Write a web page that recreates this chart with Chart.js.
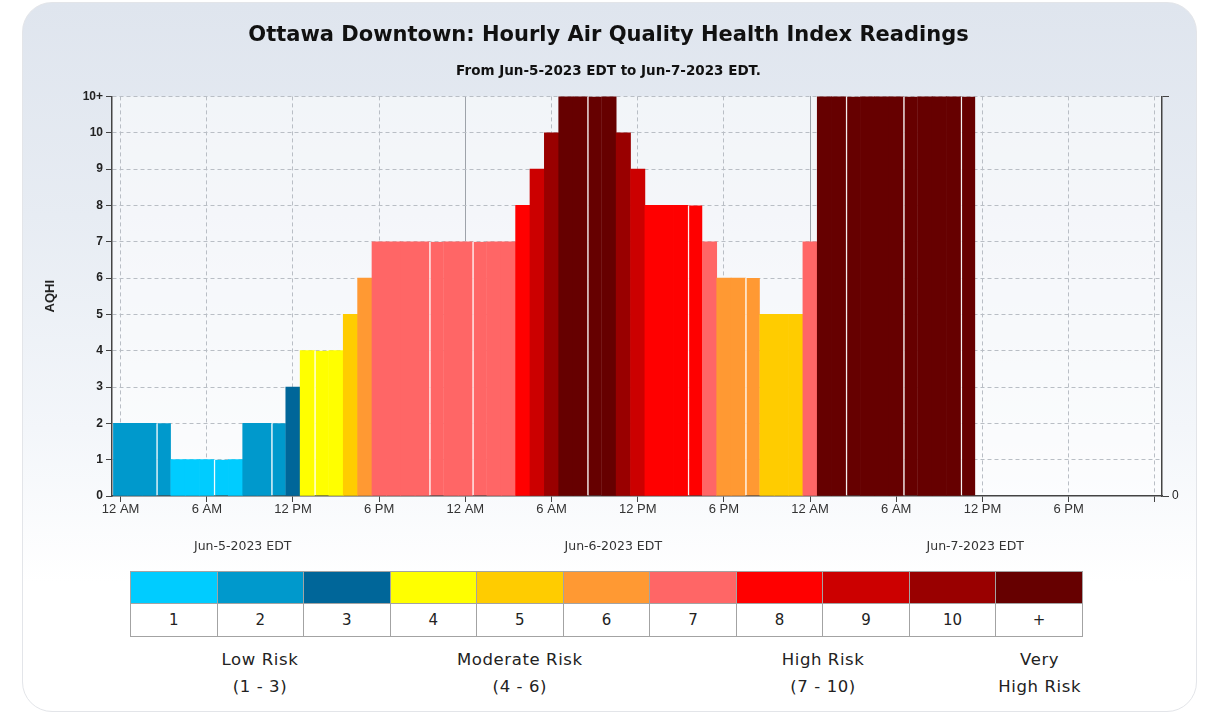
<!DOCTYPE html>
<html>
<head>
<title>Ottawa Downtown AQHI</title>
<style>
  html, body { margin: 0; padding: 0; background: #fff; }
  body { width: 1217px; height: 714px; position: relative; overflow: hidden; font-family: "DejaVu Sans", Verdana, sans-serif; color: #222; }
  #card { position: absolute; left: 22px; top: 2px; width: 1173px; height: 708px; border-radius: 30px; border: 1px solid #e3e5e9;
          background: linear-gradient(to bottom, #dfe5ee 0%, #e7ecf3 30%, #f3f6fa 60%, #ffffff 82%); }
  #wrap { position: absolute; left: 0; top: 0; width: 1217px; height: 565px; }
  #legend { position: absolute; left: 130px; top: 571px; width: 953px; border-collapse: collapse; table-layout: fixed; }
  #legend td { border: 1px solid #a3a3a3; padding: 0; text-align: center; font-size: 15px; color: #222; }
  #legend tr.sw td { height: 31px; }
  #legend tr.num td { height: 32px; background: #fff; }
  .risk { position: absolute; top: 646px; width: 220px; text-align: center; font-size: 16.5px; letter-spacing: 0.6px; line-height: 27px; color: #222; }
</style>
</head>
<body>
<div id="card"></div>
<div id="wrap"><canvas id="aqhiChart" width="1217" height="565"></canvas></div>
<table id="legend"><tr class="sw"></tr><tr class="num"></tr></table>

<script src="https://cdn.jsdelivr.net/npm/chart.js"></script>
<script>
// hourly AQHI, Jun-5-2023 12 AM onwards (11 = "10+")
const aqhi = [2, 2, 2, 2, 1, 1, 1, 1, 1, 2, 2, 2,
              3, 4, 4, 4, 5, 6, 7, 7, 7, 7, 7, 7,
              7, 7, 7, 7, 8, 9, 10, 11, 11, 11, 11, 10,
              9, 8, 8, 8, 8, 7, 6, 6, 6, 5, 5, 5,
              7, 11, 11, 11, 11, 11, 11, 11, 11, 11, 11, 11];

const levels = ['1', '2', '3', '4', '5', '6', '7', '8', '9', '10', '+'];
const levelColors = ['#00ccff', '#0099cc', '#006699', '#ffff00', '#ffcc00', '#ff9933',
                     '#ff6666', '#ff0000', '#cc0000', '#990000', '#660000'];

const tickHours = [0, 6, 12, 18, 24, 30, 36, 42, 48, 54, 60, 66, 72];
const tickNames = ['12 AM', '6 AM', '12 PM', '6 PM'];
const dayLines = [24, 48];
const dayLabels = ['Jun-5-2023 EDT', 'Jun-6-2023 EDT', 'Jun-7-2023 EDT'];
const dayLabelAt = [8.5, 34.3, 59.5];

const riskGroups = [
    { from: 0, to: 3, lines: ['Low Risk', '(1 - 3)'] },
    { from: 3, to: 6, lines: ['Moderate Risk', '(4 - 6)'] },
    { from: 6, to: 10, lines: ['High Risk', '(7 - 10)'] },
    { from: 10, to: 11, lines: ['Very', 'High Risk'] }
];

// thin light seams visible between some bars in the original
const seamBars = [3, 7, 11, 14, 22, 25, 33, 40, 44, 51, 55, 59];

// legend table
const sw = document.querySelector('#legend tr.sw');
const num = document.querySelector('#legend tr.num');
levels.forEach((l, i) => {
    const a = document.createElement('td');
    a.style.background = levelColors[i];
    sw.appendChild(a);
    const b = document.createElement('td');
    b.textContent = l;
    num.appendChild(b);
});
const cellW = 953 / levels.length;
riskGroups.forEach(g => {
    const d = document.createElement('div');
    d.className = 'risk';
    d.innerHTML = g.lines.join('<br>');
    d.style.left = (130 + (g.from + g.to) / 2 * cellW - 110) + 'px';
    document.body.appendChild(d);
});

const plotBg = {
    id: 'plotBg',
    beforeDraw(chart) {
        const { ctx, chartArea: a } = chart;
        ctx.save();
        ctx.fillStyle = 'rgba(255,255,255,0.55)';
        ctx.fillRect(a.left, a.top, a.right - a.left, a.bottom - a.top);
        ctx.restore();
    }
};

const dayText = {
    id: 'dayText',
    afterDraw(chart) {
        const { ctx } = chart;
        const x = chart.scales.x;
        ctx.save();
        ctx.font = '12.5px "DejaVu Sans"';
        ctx.fillStyle = '#333';
        ctx.textAlign = 'center';
        ctx.textBaseline = 'middle';
        dayLabels.forEach((t, i) => ctx.fillText(t, x.getPixelForValue(dayLabelAt[i]), 547));
        ctx.restore();
    }
};

const xMin = -0.6, xMax = 72.5;
const tickVal = c => (c.tick ? c.tick.value : null);

new Chart(document.getElementById('aqhiChart'), {
    type: 'bar',
    data: {
        datasets: [{
            data: aqhi.map((v, i) => ({ x: i, y: v })),
            backgroundColor: aqhi.map(v => levelColors[v - 1]),
            borderColor: 'rgba(255,255,255,0.8)',
            borderWidth: c => seamBars.includes(c.dataIndex) ? { left: 1.5, right: 0, top: 0, bottom: 0 } : 0,
            borderSkipped: false,
            barPercentage: 1,
            categoryPercentage: 1
        }]
    },
    options: {
        responsive: false,
        animation: false,
        layout: { padding: 0 },
        plugins: {
            legend: { display: false },
            tooltip: { enabled: false },
            title: {
                display: true,
                text: 'Ottawa Downtown: Hourly Air Quality Health Index Readings',
                color: '#111',
                font: { family: 'DejaVu Sans', size: 21, weight: 'bold', lineHeight: 1.2 },
                padding: { top: 23, bottom: 15 }
            },
            subtitle: {
                display: true,
                text: 'From Jun-5-2023 EDT to Jun-7-2023 EDT.',
                color: '#111',
                font: { family: 'DejaVu Sans', size: 13.5, weight: 'bold', lineHeight: 1.2 },
                padding: { top: 0, bottom: 17 }
            }
        },
        scales: {
            x: {
                type: 'linear',
                offset: false,
                min: xMin,
                max: xMax,
                afterBuildTicks: s => { s.ticks = tickHours.map(v => ({ value: v })); },
                afterFit: s => { s.height = 565 - 496; },
                ticks: {
                    autoSkip: false,
                    maxRotation: 0,
                    padding: 0,
                    color: '#333',
                    font: { family: 'Liberation Sans', size: 13 },
                    callback: v => v >= 72 ? '' : tickNames[(v % 24) / 6]
                },
                grid: { offset: false, color: c => dayLines.includes(tickVal(c)) ? 'transparent' : '#b9bec5', tickColor: '#444', tickLength: 6 },
                border: { color: '#444', width: 1.5, dash: [4, 3] }
            },
            xDay: {
                type: 'linear',
                position: 'top',
                offset: false,
                min: xMin,
                max: xMax,
                afterBuildTicks: s => { s.ticks = dayLines.map(v => ({ value: v })); },
                afterFit: s => { s.height = 0; },
                ticks: { display: false },
                grid: { offset: false, color: '#9ea3aa', drawTicks: false },
                border: { display: false }
            },
            y: {
                min: 0,
                max: 11,
                afterBuildTicks: s => { s.ticks = levels.map((l, i) => ({ value: i })).concat([{ value: 11 }]); },
                afterFit: s => { s.width = 112; },
                ticks: {
                    padding: 3,
                    color: '#222',
                    font: { family: 'Liberation Sans', size: 12, weight: 'bold' },
                    callback: v => v === 11 ? '10+' : v
                },
                grid: { color: c => tickVal(c) === 0 ? 'transparent' : '#b9bec5', tickColor: '#444', tickLength: 6 },
                border: { color: '#444', width: 1.5, dash: [4, 3] },
                title: {
                    display: true,
                    text: 'AQHI',
                    color: '#222',
                    font: { family: 'Liberation Sans', size: 13, weight: 'bold' },
                    padding: { top: 43, bottom: 0 }
                }
            },
            y2: {
                position: 'right',
                min: 0,
                max: 11,
                afterBuildTicks: s => { s.ticks = [{ value: 0 }, { value: 11 }]; },
                afterFit: s => { s.width = 1217 - 1162; },
                ticks: { color: '#222', padding: 3, font: { family: 'Liberation Sans', size: 12 }, callback: v => v === 0 ? '0' : '' },
                grid: { drawOnChartArea: false, tickColor: '#444', tickLength: 7 },
                border: { color: '#444', width: 1.5 }
            }
        }
    },
    plugins: [plotBg, dayText]
});
</script>
</body>
</html>
